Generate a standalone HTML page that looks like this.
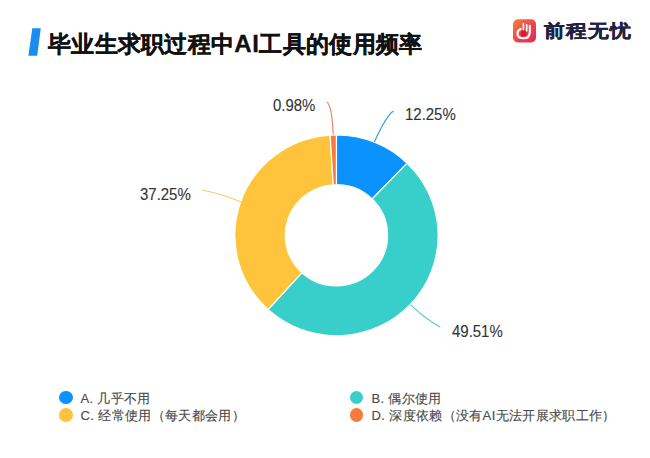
<!DOCTYPE html>
<html><head><meta charset="utf-8">
<style>
html,body{margin:0;padding:0;background:#fff;}
body{width:650px;height:458px;position:relative;overflow:hidden;font-family:"Liberation Sans",sans-serif;}
.abs{position:absolute;white-space:nowrap;}
.title{left:48px;top:30.5px;font-size:23px;font-weight:bold;color:#111;line-height:26px;letter-spacing:0.28px;-webkit-text-stroke:0.3px #111;}
.pct{font-size:16px;color:#333;-webkit-text-stroke:0.1px #333;line-height:18px;transform-origin:0 0;transform:scaleX(0.935);}
.leg{font-size:13px;color:#4a4a4a;-webkit-text-stroke:0.15px #4a4a4a;line-height:16px;letter-spacing:0.35px;}
.dot{position:absolute;width:13.5px;height:13.5px;border-radius:50%;}
.brand{left:543.5px;top:19.8px;font-size:21px;font-weight:bold;color:#22203f;line-height:24px;letter-spacing:1.2px;-webkit-text-stroke:0.4px #22203f;transform-origin:0 0;transform:scaleY(0.87);}
</style></head>
<body>
<svg class="abs" style="left:0;top:0" width="650" height="458" viewBox="0 0 650 458">
  <polygon points="32.3,28.3 40.8,28.3 37.2,55.8 28.4,55.8" fill="#1a8ef0"/>
  <g transform="translate(336.45 235.3) scale(1.012 1)" stroke="#fff" stroke-width="1.2" stroke-linejoin="round">
    <path fill="#0a93ff" d="M0.00 -100.40A100.4 100.4 0 0 1 69.87 -72.10L35.21 -36.34A50.6 50.6 0 0 0 0.00 -50.60Z"/>
    <path fill="#38cfcb" d="M69.87 -72.10A100.4 100.4 0 0 1 -67.62 74.22L-34.08 37.40A50.6 50.6 0 0 0 35.21 -36.34Z"/>
    <path fill="#ffc43c" d="M-67.62 74.22A100.4 100.4 0 0 1 -6.24 -100.21L-3.15 -50.50A50.6 50.6 0 0 0 -34.08 37.40Z"/>
    <path fill="#fa7a3c" d="M-6.24 -100.21A100.4 100.4 0 0 1 -0.06 -100.40L-0.03 -50.60A50.6 50.6 0 0 0 -3.15 -50.50Z"/>
  </g>
  <g fill="none" stroke-width="1.15">
    <path stroke="#3a98e0" d="M374.4 141.9Q386 116 393.5 111"/>
    <path stroke="#f08060" d="M333.2 134.6Q332 106 327 102"/>
    <path stroke="#f5cc70" d="M241 202Q222 194 202 190"/>
    <path stroke="#50c8c4" d="M410.5 304.7Q424 318 440 327"/>
  </g>
  <defs>
    <linearGradient id="lg" x1="0" y1="0" x2="1" y2="1">
      <stop offset="0" stop-color="#f5843a"/>
      <stop offset="0.55" stop-color="#ea4250"/>
      <stop offset="1" stop-color="#e22a52"/>
    </linearGradient>
  </defs>
  <rect x="513" y="19.2" width="23" height="23.2" rx="5" fill="url(#lg)"/>
  <circle cx="523.6" cy="33.6" r="3" fill="#d01c36"/>
  <path d="M529.8 25.8 L529.8 32 Q529.8 38.3 523.5 38.3 Q517.4 38.3 517.4 33.5 Q517.6 30.3 520.6 29" fill="none" stroke="#fff" stroke-width="2.1" stroke-linecap="round"/>
  <path d="M523.4 23.8 L523.4 29.5 M526.7 24.8 L526.7 31" fill="none" stroke="#fff" stroke-width="1.6" stroke-linecap="round"/>
</svg>
<div class="abs title">毕业生求职过程中<span style="font-size:24px;letter-spacing:0.6px;">AI</span>工具的使用频率</div>
<div class="abs brand">前程无忧</div>

<div class="abs pct" style="left:272.5px;top:97px">0.98%</div>
<div class="abs pct" style="left:405px;top:106px">12.25%</div>
<div class="abs pct" style="left:140px;top:186px">37.25%</div>
<div class="abs pct" style="left:452px;top:322.5px">49.51%</div>

<div class="dot" style="left:59.2px;top:390.6px;background:#0a93ff"></div>
<div class="abs leg" style="left:80.5px;top:390.5px">A. 几乎不用</div>
<div class="dot" style="left:59.2px;top:408px;background:#ffc43c"></div>
<div class="abs leg" style="left:80.5px;top:408.3px">C. 经常使用（每天都会用）</div>
<div class="dot" style="left:349.5px;top:390.6px;background:#38cfcb"></div>
<div class="abs leg" style="left:371.5px;top:390.5px">B. 偶尔使用</div>
<div class="dot" style="left:349.5px;top:408px;background:#fa7a3c"></div>
<div class="abs leg" style="left:371.5px;top:408.3px">D. 深度依赖（没有AI无法开展求职工作）</div>
</body></html>
